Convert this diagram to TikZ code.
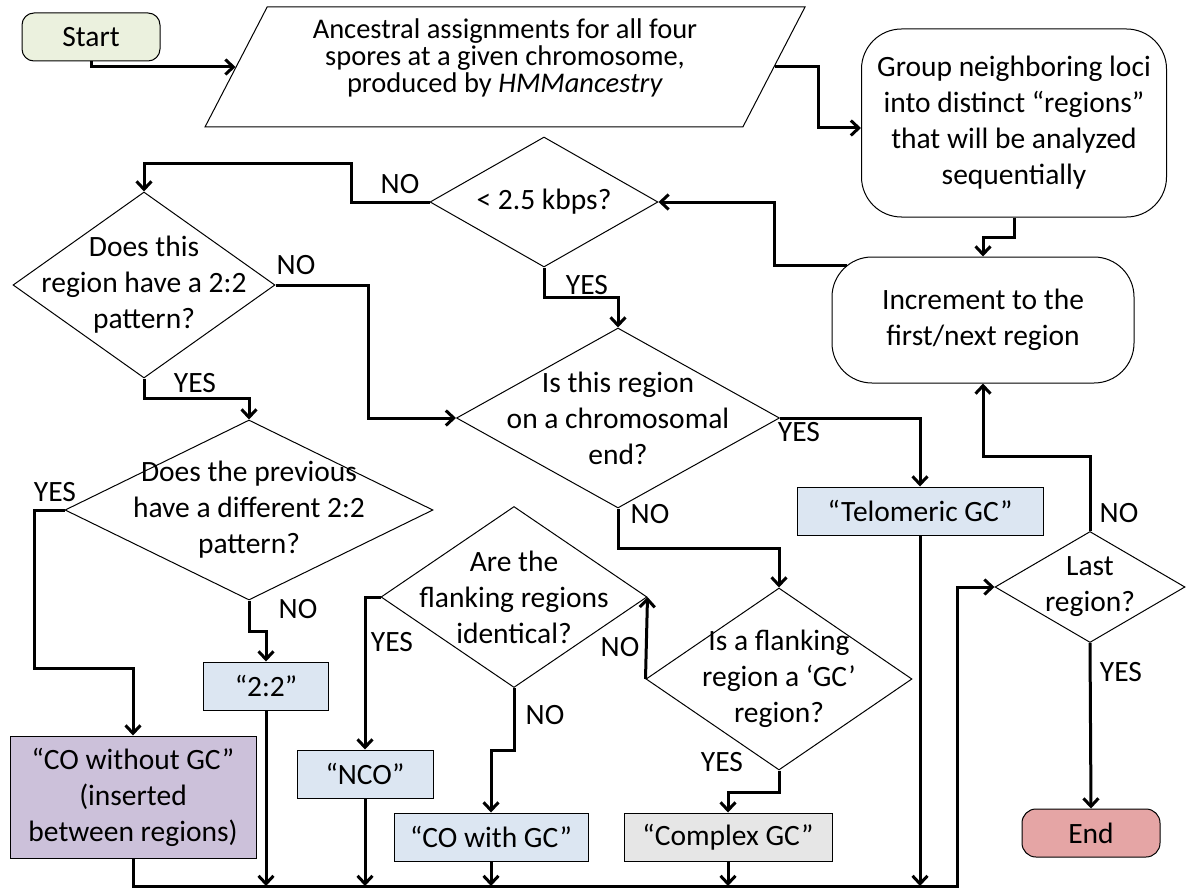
\documentclass[tikz,border=0pt]{standalone}
\usepackage{fontspec}
\setmainfont{Carlito}
\usetikzlibrary{shapes.geometric, arrows.meta}

\definecolor{startgreen}{RGB}{235,241,222}
\definecolor{endred}{RGB}{229,165,165}
\definecolor{callblue}{RGB}{220,230,242}
\definecolor{callpurple}{RGB}{204,193,218}
\definecolor{callgray}{RGB}{230,230,230}

\begin{document}
\begin{tikzpicture}[x=1pt, y=-1pt,
    font=\fontsize{29.5}{36}\selectfont,
    >={Straight Barb[length=8pt, width=15pt]},
    flow/.style={->, line width=3pt},
    term/.style={draw, line width=1pt, rounded corners=12pt,
        minimum width=138pt, minimum height=48pt},
    soft/.style={draw, line width=1pt, rounded corners=40pt, align=center},
    call/.style={draw, line width=1pt, fill=callblue, align=center,
        minimum height=48pt},
    decide/.style={diamond, draw, line width=1pt, align=center, inner sep=-60pt},
    lbl/.style={inner sep=0pt}]
    \useasboundingbox (0,0) rectangle (1188,888);

    % terminals and process boxes
    \node[term, fill=startgreen] (start) at (91,37) {Start};
    \node[trapezium, draw, line width=1pt, align=center,
        trapezium left angle=59, trapezium right angle=121,
        trapezium stretches body, minimum width=600pt, minimum height=120pt,
        font=\fontsize{28.5}{27}\selectfont, text depth=23pt]
        (io) at (505,67)
        {Ancestral assignments for all four\\spores at a given chromosome,\\produced by \textit{HMMancestry}};
    \node[soft, minimum width=305pt, minimum height=188pt] (group) at (1014,123)
        {Group neighboring loci\\into distinct “regions”\\that will be analyzed\\sequentially};
    \node[soft, minimum width=302pt, minimum height=126pt] (incr) at (983,320)
        {Increment to the\\first/next region};

    % decisions
    \node[decide, minimum width=228pt, minimum height=130pt] (kbps) at (544,202) {< 2.5 kbps?};
    \node[decide, minimum width=262pt, minimum height=186pt] (pat22) at (144,285)
        {Does this\\region have a 2:2\\pattern?};
    \node[decide, minimum width=323pt, minimum height=180pt] (chrend) at (618,418)
        {Is this region\\on a chromosomal\\end?};
    \node[decide, minimum width=368pt, minimum height=180pt] (prev) at (249,510)
        {Does the previous\\have a different 2:2\\pattern?};
    \node[decide, minimum width=266pt, minimum height=181pt] (flankid) at (514,597)
        {Are the\\flanking regions\\identical?};
    \node[decide, minimum width=266pt, minimum height=182pt] (flankgc) at (779,679)
        {Is a flanking\\region a ‘GC’\\region?};
    \node[decide, minimum width=190pt, minimum height=111pt] (last) at (1090,587)
        {Last\\region?};

    % outcomes
    \node[call, minimum width=246pt] (telo) at (920,511) {“Telomeric GC”};
    \node[call, minimum width=125pt] (box22) at (266,686) {“2:2”};
    \node[call, fill=callpurple, minimum width=246pt, minimum height=122pt] (cowo) at (133,797)
        {“CO without GC”\\(inserted\\between regions)};
    \node[call, minimum width=136pt] (nco) at (365,774) {“NCO”};
    \node[call, minimum width=194pt] (cowgc) at (491,837) {“CO with GC”};
    \node[call, fill=callgray, minimum width=208pt] (complex) at (728,837) {“Complex GC”};
    \node[term, fill=endred, rounded corners=14pt] (stop) at (1091,833) {End};

    % branch labels
    \node[lbl] (noA) at (400,184) {NO};
    \node[lbl] (yesA) at (587,285) {YES};
    \node[lbl] (noB) at (296,265) {NO};
    \node[lbl] (yesB) at (195,383) {YES};
    \node[lbl] (yesC) at (55,492) {YES};
    \node[lbl] (noC) at (298,609) {NO};
    \node[lbl] (yesD) at (799,432) {YES};
    \node[lbl] (noD) at (650,514) {NO};
    \node[lbl] (noE) at (620,647) {NO};
    \node[lbl] (yesE) at (722,762) {YES};
    \node[lbl] (yesF) at (392,642) {YES};
    \node[lbl] (noF) at (545,715) {NO};
    \node[lbl] (noG) at (1119,513) {NO};
    \node[lbl] (yesG) at (1121,672) {YES};

    % connectors
    \draw[flow] (start.south) |- (io.west);
    \draw[flow] (io.east) -- ++(44,0) |- ([yshift=-5pt]group.west);
    \draw[flow] (group.south) -- ++(0,20) -| (incr.north);
    \draw[flow] ([xshift=15pt, yshift=-9pt]incr.north west) -- ++(-72,0) |- (kbps.east);
    \draw[flow] (kbps.west) -- ++(-78,0) -- ++(0,-39) -| (pat22.north);
    \draw[flow] (kbps.south) -- ++(0,30) -| (chrend.north);
    \draw[flow] (pat22.east) -- ++(93,0) |- (chrend.west);
    \draw[flow] (pat22.south) -- ++(0,20) -| (prev.north);
    \draw[flow] (prev.west) -- ++(-30,0) -- ++(0,158) -| (cowo.north);
    \draw[flow] (prev.south) -- ++(0,31) -| (box22.north);
    \draw[flow] (chrend.east) -| (telo.north);
    \draw[flow] (chrend.south) -- ++(0,40) -| (flankgc.north);
    \draw[flow] (flankgc.west) -- (flankid.east);
    \draw[flow] (flankgc.south) -- ++(0,22) -| (complex.north);
    \draw[flow] (flankid.west) -| (nco.north);
    \draw[flow] (flankid.south) -- ++(0,62) -| (cowgc.north);

    % collecting line back to the loop test
    \coordinate (bus) at (957,886);
    \draw[flow] (cowo.south) |- (bus) |- (last.west);
    \foreach \n in {box22, nco, cowgc, complex, telo}
        \draw[flow] (\n.south) -- (\n.south |- bus);
    \draw[flow] (last.north) -- ++(0,-75) -| (incr.south);
    \draw[flow] (last.south) -- (stop.north);
\end{tikzpicture}
\end{document}
